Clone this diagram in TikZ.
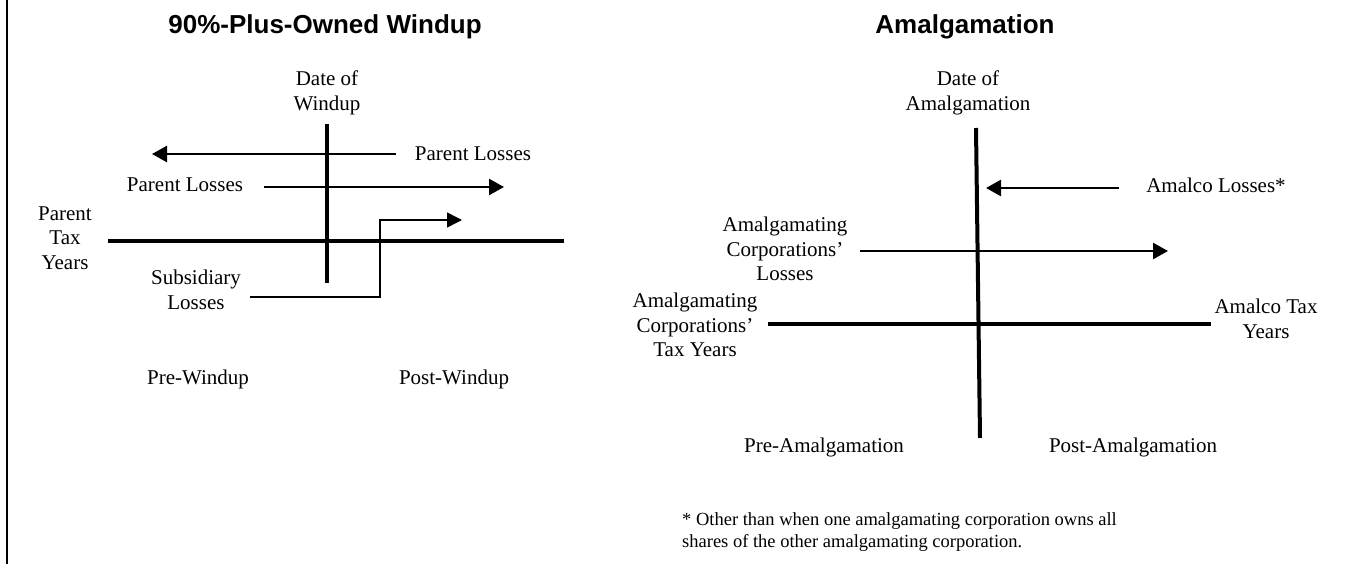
\documentclass[tikz,border=0pt]{standalone}
\usepackage{fontspec}
\setmainfont{Liberation Serif}
\newfontfamily\headfont{Liberation Sans}
\usetikzlibrary{arrows.meta}

\begin{document}
\begin{tikzpicture}[x=1pt,y=-1pt,
  lbl/.style={align=center,inner sep=0pt,font=\fontsize{21}{24.5}\selectfont},
  head/.style={inner sep=0pt,font=\headfont\bfseries\fontsize{26}{30}\selectfont},
  note/.style={align=left,inner sep=0pt,anchor=west,font=\fontsize{18.5}{22}\selectfont},
  axis/.style={line width=4pt},
  flow/.style={line width=2.5pt,-{Triangle[length=15pt,width=16pt]}},
  thinflow/.style={line width=1.5pt,-{Triangle[length=15pt,width=15pt]}}]
\useasboundingbox (0,0) rectangle (1351,564);
\draw[line width=1.5pt] (7,0) -- (7,564);

% left: windup
\node[head] (wtitle) at (325,27) {90\%-Plus-Owned Windup};
\node[lbl] (wdate) at (327,93) {Date of\\Windup};
\node[lbl] (ploss1) at (473,154) {Parent Losses};
\node[lbl] (ploss2) at (185,185) {Parent Losses};
\node[lbl] (ptax) at (65,238) {Parent\\Tax\\Years};
\node[lbl] (sloss) at (196,290) {Subsidiary\\Losses};
\node[lbl] (prew) at (198,379) {Pre-Windup};
\node[lbl] (postw) at (454,379) {Post-Windup};

\coordinate (wtop) at (327,124);
\coordinate (wbot) at (327,283);
\coordinate (pleft) at (108,241);
\coordinate (pright) at (564,241);
\coordinate (f1s) at (396,154);
\coordinate (f1e) at (152,154);
\coordinate (f2s) at (264,187);
\coordinate (f2e) at (504,187);
\coordinate (f3s) at (250,297);
\coordinate (f3k) at (380,297);
\coordinate (f3e) at (462,220);

\draw[axis] (wtop) -- (wbot);
\draw[axis] (pleft) -- (pright);
\draw[flow] (f1s) -- (f1e);
\draw[flow] (f2s) -- (f2e);
\draw[thinflow] (f3s) -- (f3k) |- (f3e);

% right: amalgamation
\node[head] (atitle) at (965,27) {Amalgamation};
\node[lbl] (adate) at (968,93) {Date of\\Amalgamation};
\node[lbl] (aloss) at (1216,185) {Amalco Losses*};
\node[lbl] (closs) at (785,249) {Amalgamating\\Corporations'\\Losses};
\node[lbl] (ctax) at (695,325) {Amalgamating\\Corporations'\\Tax Years};
\node[lbl] (atax) at (1266,319) {Amalco Tax\\Years};
\node[lbl] (prea) at (824,447) {Pre-Amalgamation};
\node[lbl] (posta) at (1133,447) {Post-Amalgamation};
\node[note] (fn) at (682,532) {* Other than when one amalgamating corporation owns all\\shares of the other amalgamating corporation.};

\coordinate (atop) at (976,128);
\coordinate (abot) at (980,438);
\coordinate (aleft) at (768,324);
\coordinate (aright) at (1211,324);
\coordinate (g1s) at (1119,188);
\coordinate (g1e) at (986,188);
\coordinate (g2s) at (860,251);
\coordinate (g2e) at (1168,251);

\draw[axis] (atop) -- (abot);
\draw[axis] (aleft) -- (aright);
\draw[flow] (g1s) -- (g1e);
\draw[flow] (g2s) -- (g2e);
\end{tikzpicture}
\end{document}
